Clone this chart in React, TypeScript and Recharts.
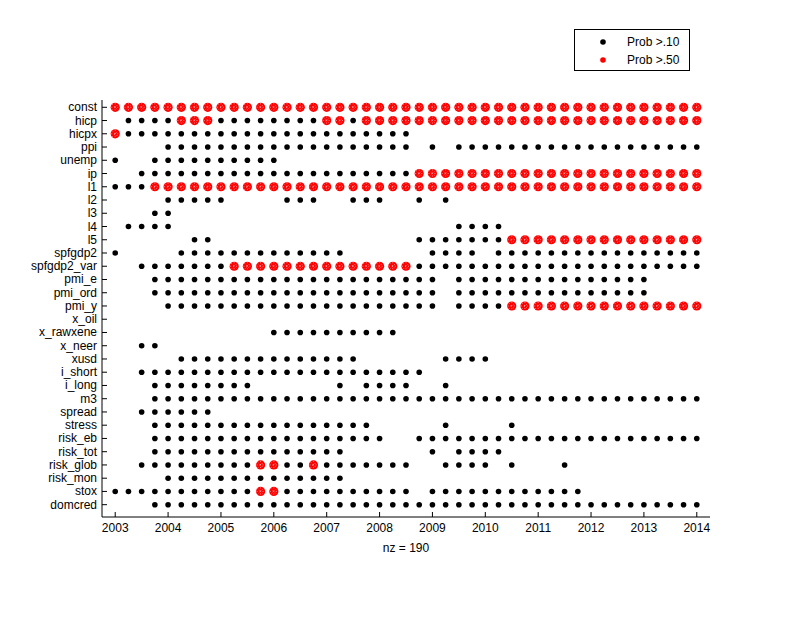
import React from 'react';
import { ScatterChart, Scatter, XAxis, YAxis, Legend } from 'recharts';

const ROW_NAMES = [
  'const', 'hicp', 'hicpx', 'ppi', 'unemp', 'ip', 'l1', 'l2', 'l3', 'l4', 'l5',
  'spfgdp2', 'spfgdp2_var', 'pmi_e', 'pmi_ord', 'pmi_y', 'x_oil', 'x_rawxene',
  'x_neer', 'xusd', 'i_short', 'i_long', 'm3', 'spread', 'stress', 'risk_eb',
  'risk_tot', 'risk_glob', 'risk_mon', 'stox', 'domcred',
];

const START_YEAR = 2003;
const YEAR_TICKS = [2003, 2004, 2005, 2006, 2007, 2008, 2009, 2010, 2011, 2012, 2013, 2014];
const NZ_LABEL = 'nz = 190';
const LEGEND_LABELS = ['Prob >.10', 'Prob >.50'];

// Runs [first, last] of quarter indices (0 = 2003Q1, 44 = 2014Q1), one list per row
const BLACK_RUNS: number[][][] = [
  [[0, 44]],                                   // const
  [[1, 44]],                                   // hicp
  [[0, 22]],                                   // hicpx
  [[4, 22], [24, 24], [26, 44]],               // ppi
  [[0, 0], [3, 12]],                           // unemp
  [[2, 44]],                                   // ip
  [[0, 44]],                                   // l1
  [[4, 8], [13, 15], [18, 20], [23, 23], [25, 25]], // l2
  [[3, 4]],                                    // l3
  [[1, 4], [26, 29]],                          // l4
  [[6, 7], [23, 44]],                          // l5
  [[0, 0], [5, 17], [24, 27], [29, 44]],       // spfgdp2
  [[2, 44]],                                   // spfgdp2_var
  [[3, 24], [26, 40]],                         // pmi_e
  [[3, 24], [26, 40]],                         // pmi_ord
  [[4, 24], [26, 44]],                         // pmi_y
  [],                                          // x_oil
  [[12, 21]],                                  // x_rawxene
  [[2, 3]],                                    // x_neer
  [[5, 18], [25, 28]],                         // xusd
  [[2, 23]],                                   // i_short
  [[3, 10], [17, 17], [19, 22], [25, 25]],     // i_long
  [[3, 44]],                                   // m3
  [[2, 7]],                                    // spread
  [[3, 19], [25, 25], [30, 30]],               // stress
  [[3, 20], [23, 44]],                         // risk_eb
  [[3, 17], [24, 24], [26, 29]],               // risk_tot
  [[2, 22], [25, 28], [30, 30], [34, 34]],     // risk_glob
  [[4, 17]],                                   // risk_mon
  [[0, 22], [24, 35]],                         // stox
  [[3, 44]],                                   // domcred
];

const RED_RUNS: number[][][] = [
  [[0, 44]],                                   // const
  [[5, 7], [16, 17], [19, 44]],                // hicp
  [[0, 0]],                                    // hicpx
  [],                                          // ppi
  [],                                          // unemp
  [[23, 44]],                                  // ip
  [[3, 44]],                                   // l1
  [], [], [],                                  // l2, l3, l4
  [[30, 44]],                                  // l5
  [],                                          // spfgdp2
  [[9, 22]],                                   // spfgdp2_var
  [], [],                                      // pmi_e, pmi_ord
  [[30, 44]],                                  // pmi_y
  [], [], [], [], [], [], [], [], [], [], [],  // x_oil .. risk_tot
  [[11, 12], [15, 15]],                        // risk_glob
  [],                                          // risk_mon
  [[11, 12]],                                  // stox
  [],                                          // domcred
];

function expand(runs: number[][][]) {
  const out: { x: number; y: number }[] = [];
  runs.forEach((rowRuns, row) => {
    rowRuns.forEach(([a, b]) => {
      for (let k = a; k <= b; k++) out.push({ x: START_YEAR + k / 4, y: row });
    });
  });
  return out;
}

const blackData = expand(BLACK_RUNS);
const redData = expand(RED_RUNS);
const ROW_TICKS = ROW_NAMES.map((_, i) => i);

const FONT = '"Liberation Sans", Arial, sans-serif';

const BlackDot = (props: any) => {
  const { cx, cy } = props;
  if (cx == null || cy == null) return null;
  return <circle cx={cx} cy={cy} r={2.8} fill="#000" />;
};

const RedDot = (props: any) => {
  const { cx, cy } = props;
  if (cx == null || cy == null) return null;
  const d = `M${cx - 3} ${cy - 3}L${cx + 3} ${cy + 3}M${cx - 3} ${cy + 3}L${cx + 3} ${cy - 3}M${cx} ${cy - 4}L${cx} ${cy + 4}M${cx - 4} ${cy}L${cx + 4} ${cy}`;
  return (
    <g>
      <circle cx={cx} cy={cy} r={4.6} fill="#ff0000" />
      <path d={d} stroke="#ffffff" strokeWidth={0.7} strokeDasharray="1 2" opacity={0.75} />
    </g>
  );
};

const XTick = (props: any) => {
  const { x, y, payload } = props;
  return (
    <g>
      <line x1={x} x2={x} y1={y} y2={y - 5} stroke="#000" />
      <text x={x} y={y + 15} textAnchor="middle" fontSize={12} fontFamily={FONT} fill="#000">
        {payload.value}
      </text>
    </g>
  );
};

const YTick = (props: any) => {
  const { x, y, payload } = props;
  return (
    <g>
      <line x1={x} x2={x + 5} y1={y} y2={y} stroke="#000" />
      <text x={x - 5} y={y + 4} textAnchor="end" fontSize={12} fontFamily={FONT} fill="#000">
        {ROW_NAMES[payload.value]}
      </text>
    </g>
  );
};

const LegendBox = () => (
  <div
    style={{
      width: 114,
      height: 40,
      border: '1px solid #000',
      background: '#fff',
      position: 'relative',
      fontFamily: FONT,
      fontSize: 12,
      color: '#000',
    }}
  >
    {LEGEND_LABELS.map((lab, i) => (
      <div key={lab} style={{ position: 'absolute', left: 0, top: 4 + i * 18, height: 16, width: 114 }}>
        <svg width={20} height={16} style={{ position: 'absolute', left: 18, top: 0 }}>
          <circle cx={10} cy={8} r={2.8} fill={i === 0 ? '#000' : '#ff0000'} />
        </svg>
        <span style={{ position: 'absolute', left: 52, top: 1, lineHeight: '14px', whiteSpace: 'nowrap' }}>{lab}</span>
      </div>
    ))}
  </div>
);

export default function App() {
  return (
    <div style={{ position: 'absolute', left: 0, top: 0, background: '#fff' }}>
      <ScatterChart width={786} height={634} margin={{ top: 100, right: 76, bottom: 77, left: 0 }}>
        <XAxis
          type="number"
          dataKey="x"
          domain={[2002.75, 2014.25]}
          ticks={YEAR_TICKS}
          interval={0}
          allowDataOverflow
          height={40}
          tickSize={0}
          tickMargin={0}
          tickLine={false}
          axisLine={{ stroke: '#000' }}
          tick={<XTick />}
          label={{
            content: (p: any) => {
              const vb = p.viewBox || {};
              return (
                <text x={vb.x + vb.width / 2} y={vb.y + 35} textAnchor="middle" fontSize={12} fontFamily={FONT} fill="#000">
                  {NZ_LABEL}
                </text>
              );
            },
          }}
        />
        <YAxis
          type="number"
          dataKey="y"
          domain={[-0.55, 30.93]}
          reversed
          allowDataOverflow
          ticks={ROW_TICKS}
          interval={0}
          width={102}
          tickSize={0}
          tickMargin={0}
          tickLine={false}
          axisLine={{ stroke: '#000' }}
          tick={<YTick />}
        />
        <Legend
          layout="horizontal"
          verticalAlign="middle"
          align="center"
          content={() => <LegendBox />}
          wrapperStyle={{ left: 574, top: 29, width: 116, height: 42, right: 'auto', bottom: 'auto' }}
        />
        <Scatter name={LEGEND_LABELS[0]} data={blackData} fill="#000" shape={BlackDot} isAnimationActive={false} />
        <Scatter name={LEGEND_LABELS[1]} data={redData} fill="#ff0000" shape={RedDot} isAnimationActive={false} />
      </ScatterChart>
    </div>
  );
}
